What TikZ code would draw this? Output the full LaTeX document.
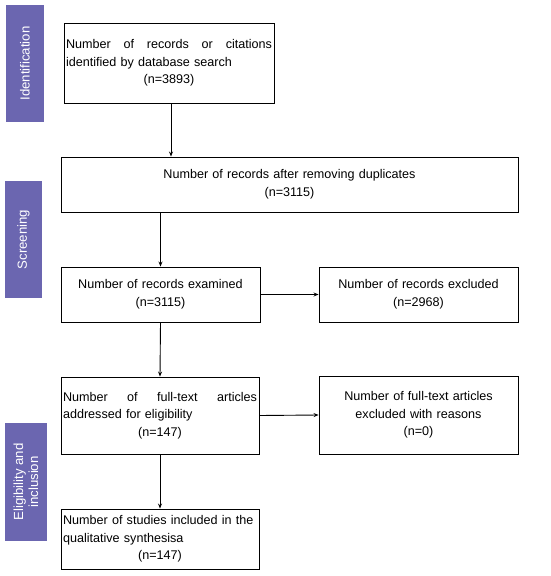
\documentclass[tikz,border=0pt]{standalone}
\usepackage{fontspec}
\setmainfont{Liberation Sans}
\usetikzlibrary{arrows.meta}
\definecolor{barc}{RGB}{107,102,176}
\begin{document}
\begin{tikzpicture}[x=1pt,y=-1pt,
 box/.style={draw, line width=0.9pt, inner xsep=2pt, inner ysep=0pt,
   font=\fontsize{12.6}{17.6}\selectfont},
 bar/.style={fill=barc, draw=none, text=white, inner sep=0pt,
   font=\fontsize{13.2}{15}\selectfont, align=center},
 arr/.style={-{Stealth[length=5pt,width=4pt]}, line width=0.9pt}]
\useasboundingbox (0,0) rectangle (550,576);

% phase bars
\node[bar, minimum width=38pt, minimum height=117pt] (p1) at (25,63.5) {};
\node[bar, rotate=90] (t1) at (p1.center) {Identification};
\node[bar, minimum width=37pt, minimum height=117pt] (p2) at (23.5,239.5) {};
\node[bar, rotate=90] (t2) at (p2.center) {Screening};
\node[bar, minimum width=42pt, minimum height=118pt] (p3) at (26,482) {};
\node[bar, rotate=90] (t3) at (p3.center) {Eligibility and\\inclusion};

% boxes
\node[box, text width=206pt, minimum height=80pt, align=left] (b1) at (169,63)
 {\makebox[206pt][l]{Number\hfill of\hfill records\hfill or\hfill citations}\\
  identified by database search\\
  \makebox[206pt][c]{(n=3893)}};
\node[box, text width=453pt, minimum height=55pt, align=center] (b2) at (289.5,184.5)
 {Number of records after removing duplicates\\(n=3115)};
\node[box, text width=195pt, minimum height=55pt, align=center] (b3) at (160.5,294.5)
 {Number of records examined\\(n=3115)};
\node[box, text width=195pt, minimum height=55pt, align=center] (b4) at (418.5,294.5)
 {Number of records excluded\\(n=2968)};
\node[box, text width=194pt, minimum height=77pt, align=left] (b5) at (160,415.5)
 {\makebox[194pt][l]{Number\hfill of\hfill full-text\hfill articles}\\
  addressed for eligibility\\
  \makebox[194pt][c]{(n=147)}};
\node[box, text width=195pt, minimum height=78pt, align=center] (b6) at (418.5,415)
 {Number of full-text articles\\excluded with reasons\\(n=0)};
\node[box, text width=194pt, minimum height=60pt, align=left] (b7) at (160,539)
 {Number of studies included in the\\
  qualitative synthesisa\\
  \makebox[194pt][c]{(n=147)}};

% connectors
\draw[arr] ([xshift=2pt]b1.south) -- ([xshift=2pt]b1.south |- b2.north);
\draw[arr] (b3.north |- b2.south) -- (b3.north);
\draw[arr] (b3.east) -- (b4.west);
\draw[arr] (b3.south) -- (b5.north);
\draw[arr] (b5.east) -- (b6.west);
\draw[arr] (b5.south) -- (b7.north);
\end{tikzpicture}
\end{document}
